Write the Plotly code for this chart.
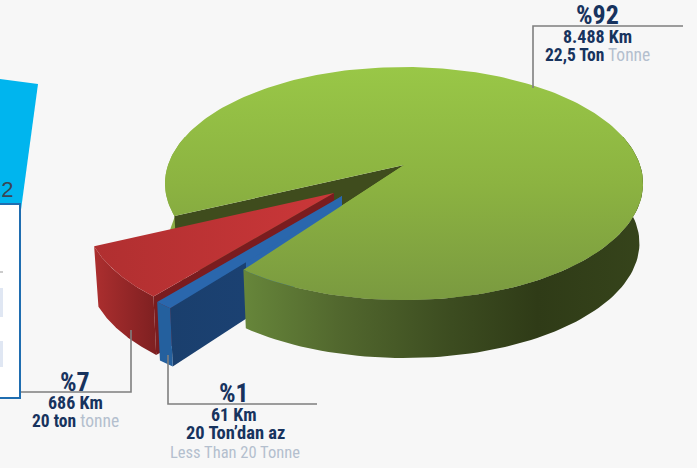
import math
import plotly.graph_objects as go

# ---- data ----
slice_names = ["8.488 Km", "686 Km", "61 Km"]
shares = [92, 7, 1]
pct_labels = ["%92", "%7", "%1"]
ton_labels = ["22,5 Ton", "20 ton", "20 Ton’dan az"]
unit_labels = ["Tonne", "tonne", "Less Than 20 Tonne"]

# ---- pie geometry (perspective disc) ----
K = 0.159
RX, RY = 236, 113.6
DEPTH = 60
BOTTOM_SCALE = 0.985
GREEN_START = 155.2  # y-down degrees; the green slice runs clockwise from here
CENTER = {"green": (404, 165), "red": (334, 193), "blue": (342, 196)}
SCALE = {"green": 1.0, "red": 1.045, "blue": 1.07}
BLUE_EDGE_BAND = 8

green_sweep = shares[0] * 3.6
red_sweep = shares[1] * 3.6
blue_sweep = shares[2] * 3.6
green_end = GREEN_START + green_sweep
red_a0, red_a1 = GREEN_START - red_sweep, GREEN_START
blue_a0, blue_a1 = red_a0 - blue_sweep, red_a0


def pt(name, deg, bottom=False):
    cx, cy = CENTER[name]
    s = SCALE[name]
    u, v = math.cos(math.radians(deg)), math.sin(math.radians(deg))
    d = 1 - K * v
    if bottom:
        return cx + s * BOTTOM_SCALE * RX * u / d, cy + DEPTH + s * BOTTOM_SCALE * RY * v / d
    return cx + s * RX * u / d, cy + s * RY * v / d


def arc(name, a0, a1, bottom=False, n=90):
    return [pt(name, a0 + (a1 - a0) * i / n, bottom) for i in range(n + 1)]


def apex(name, bottom=False):
    cx, cy = CENTER[name]
    return (cx, cy + (DEPTH if bottom else 0))


def poly(fig, pts, color=None, grad=None):
    xs = [p[0] for p in pts] + [pts[0][0]]
    ys = [p[1] for p in pts] + [pts[0][1]]
    kw = dict(x=xs, y=ys, mode="lines", fill="toself", line=dict(width=0),
              hoverinfo="skip", showlegend=False)
    if grad:
        kw["fillgradient"] = grad
    else:
        kw["fillcolor"] = color
    fig.add_trace(go.Scatter(**kw))


def hgrad(x0, x1, stops):
    return dict(type="horizontal", start=x0, stop=x1, colorscale=stops)


TOP_GREEN = dict(type="vertical", start=67, stop=300,
                 colorscale=[[0, "#99c747"], [0.5, "#8cb341"], [1, "#7a9a40"]])
WALL_GREEN = hgrad(165, 643, [[0, "#90b348"], [0.03, "#86a743"], [0.17, "#66853a"],
                              [0.36, "#52682e"], [0.6, "#3c4c20"], [0.78, "#2f3b17"], [1, "#36441b"]])

fig = go.Figure()

# cropped neighbouring panel at the left edge
poly(fig, [(0, 79), (38, 84), (20, 217), (0, 217)], "#00b5ee")

# green: left wall, exposed radial face, whole top
poly(fig, arc("green", 150, 195) + arc("green", 195, 150, True), grad=WALL_GREEN)
poly(fig, [apex("green"), pt("green", GREEN_START), pt("green", GREEN_START, True), apex("green", True)], "#3f4c1d")
poly(fig, [apex("green")] + arc("green", GREEN_START, green_end, n=240), grad=TOP_GREEN)

# red slice
poly(fig, arc("red", red_a0, red_a1) + arc("red", red_a1, red_a0, True),
     grad=hgrad(93, 160, [[0, "#ad2f2f"], [0.6, "#8f2526"], [1, "#7b1f20"]]))
poly(fig, [apex("red"), pt("red", red_a0), pt("red", red_a0, True), apex("red", True)], "#7a1c1f")
poly(fig, [apex("red")] + arc("red", red_a0, red_a1),
     grad=hgrad(93, 334, [[0, "#b02f30"], [1, "#cb3739"]]))

# blue slice
poly(fig, [apex("blue"), pt("blue", blue_a0), pt("blue", blue_a0, True), apex("blue", True)],
     grad=hgrad(168, 342, [[0, "#1a3f6d"], [0.45, "#1b4172"], [0.451, "#2a67ad"], [1, "#2a67ad"]]))
poly(fig, arc("blue", blue_a0, blue_a1) + arc("blue", blue_a1, blue_a0, True), "#24609e")
band_x, band_y = apex("blue")
poly(fig, [apex("blue")] + arc("blue", blue_a1, blue_a0) + [(band_x, band_y + BLUE_EDGE_BAND)], "#2a67ad")

# green front part sits over the exploded slices' hidden sides
front_end = green_end - 360
poly(fig, arc("green", -15, front_end) + arc("green", front_end, -15, True), grad=WALL_GREEN)
poly(fig, [apex("green")] + arc("green", -15, front_end), grad=TOP_GREEN)

# leader lines
GRAY = "#7f7f7f"
shapes = []
for path in ["M533,88 L533,26 L683,26", "M131,330 L131,392 L20,392", "M168,355 L168,404 L317,404"]:
    shapes.append(dict(type="path", path=path, line=dict(color=GRAY, width=1.6), layer="above"))
# cropped white box
shapes.append(dict(type="rect", x0=-6, x1=20, y0=204, y1=398, fillcolor="#ffffff",
                   line=dict(color="#1f6db0", width=2), layer="above"))
shapes.append(dict(type="rect", x0=-2, x1=3, y0=288, y1=317, fillcolor="#e0e7f3", line=dict(width=0), layer="above"))
shapes.append(dict(type="rect", x0=-2, x1=3, y0=341, y1=367, fillcolor="#e0e7f3", line=dict(width=0), layer="above"))
shapes.append(dict(type="line", x0=0, x1=3, y0=272, y1=272, line=dict(color="#999999", width=1), layer="above"))

NAVY = "#17335e"
LIGHT = "#b4bfce"
FONT = "Roboto Condensed, Open Sans Condensed, DejaVu Sans Condensed, Roboto, sans-serif"
anns = []


def txt(x, y, text, size):
    anns.append(dict(x=x, y=y, text=text, showarrow=False, xanchor="center", yanchor="middle",
                     font=dict(family=FONT, size=size, color=NAVY)))


def bold(s):
    return f"<b>{s}</b>"


def soft(s):
    return f"<span style='color:{LIGHT}'>{s}</span>"


txt(597, 15, bold(pct_labels[0]), 26)
txt(597, 36, bold(slice_names[0]), 18)
txt(597, 55, bold(ton_labels[0]) + " " + soft(unit_labels[0]), 17.5)
txt(75, 382, bold(pct_labels[1]), 26)
txt(75, 402, bold(slice_names[1]), 18)
txt(75, 421, bold(ton_labels[1]) + " " + soft(unit_labels[1]), 17.5)
txt(234, 393, bold(pct_labels[2]), 26)
txt(234, 414, bold(slice_names[2]), 18)
txt(235, 433, bold(ton_labels[2]), 18.5)
txt(235, 452, soft(unit_labels[2]), 16.5)
anns.append(dict(x=15, y=189, text="22", showarrow=False, xanchor="right", yanchor="middle",
                 font=dict(family="Liberation Sans", size=22, color="#3a4654")))

fig.update_layout(
    width=697, height=468, margin=dict(l=0, r=0, t=0, b=0),
    paper_bgcolor="#f7f7f7", plot_bgcolor="#f7f7f7", showlegend=False,
    xaxis=dict(range=[0, 697], visible=False, fixedrange=True),
    yaxis=dict(range=[468, 0], visible=False, fixedrange=True),
    shapes=shapes, annotations=anns,
)
fig.write_html("out.html", config={"displayModeBar": False},
               post_script="document.body.style.margin='0';document.body.style.overflow='hidden';")
